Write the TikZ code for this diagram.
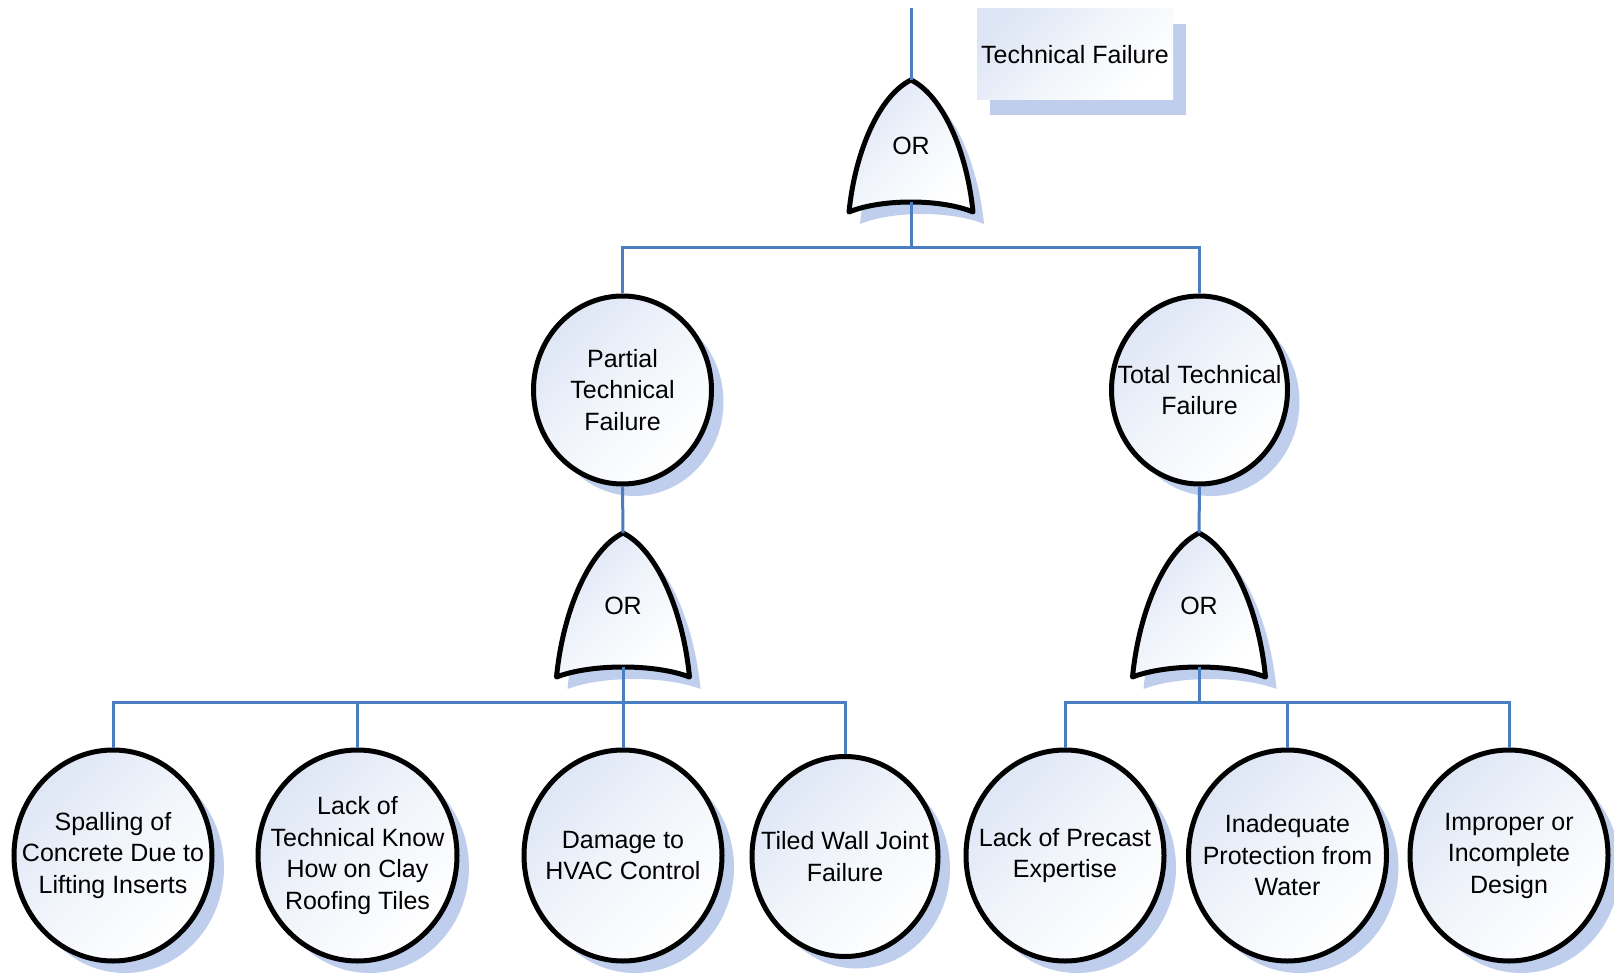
\documentclass[tikz,border=0pt]{standalone}
\usepackage{fontspec}
\setmainfont{Liberation Sans}
\usetikzlibrary{shapes.geometric,shadows}
\definecolor{connblue}{RGB}{74,126,192}
\definecolor{shadowblue}{RGB}{190,206,236}
\definecolor{paleblue}{RGB}{222,230,245}
\tikzset{
  basefont/.style={font=\fontsize{25}{31.5}\selectfont},
  softfill/.style={top color=paleblue, bottom color=white, middle color=white!60!paleblue, shading angle=45},
  softshadow/.style={drop shadow={shadow xshift=12pt, shadow yshift=-12pt, fill=shadowblue, opacity=1}},
  event/.style={ellipse, draw=black, line width=5pt, softfill, softshadow, basefont,
    align=center, inner xsep=-45pt, inner ysep=-10pt},
  gateline/.style={draw=black, line width=5pt, line join=round, softfill},
  gatelabel/.style={rectangle, draw=none, inner sep=0pt, basefont, text height=28pt, text depth=0pt},
  conn/.style={draw=connblue, line width=3pt},
  titlebox/.style={rectangle, inner sep=0pt, softfill, basefont,
    drop shadow={shadow xshift=13pt, shadow yshift=-15pt, fill=shadowblue, opacity=1}}
}
% OR gate outline: apex at (0,0), half width #1, corner depth #2, middle of base at depth #3
\newcommand\gateoutline[3]{(0,0) .. controls ({-0.5*#1},{0.114*#2}) and ({-0.9*#1},{0.53*#2}) .. ({-#1},{#2})
  .. controls ({-0.48*#1},{(#3-0.25*#2)/0.75}) and ({0.48*#1},{(#3-0.25*#2)/0.75}) .. ({#1},{#2})
  .. controls ({0.9*#1},{0.53*#2}) and ({0.5*#1},{0.114*#2}) .. cycle}
% #1 name, #2 x, #3 apex y, #4 half width, #5 corner depth, #6 base middle depth
\newcommand\orgate[6]{%
  \begin{scope}[shift={(#2,#3)}]
    \path[fill=shadowblue, shift={(11,12)}] \gateoutline{#4}{#5}{#6};
    \path[gateline] \gateoutline{#4}{#5}{#6};
  \end{scope}
  \node[gatelabel, minimum width={2*#4}, minimum height={#6}] (#1) at (#2,{#3+#6/2}) {OR};
}
\begin{document}
\begin{tikzpicture}[x=1pt,y=-1pt]
\useasboundingbox (0,0) rectangle (1614,976);

% top event label
\node[titlebox, minimum width=196, minimum height=91] (title) at (1075,54.5) {Technical Failure};

% gates
\orgate{g0}{911}{80}{62}{132}{122}
\orgate{g1}{623}{533}{66.5}{144}{134}
\orgate{g2}{1199}{533}{66.5}{144}{134}

% intermediate events
\node[event, minimum width=178, minimum height=188] (pt) at (622.5,390) {Partial\\Technical\\Failure};
\node[event, minimum width=176, minimum height=188] (tt) at (1199.5,390) {Total Technical\\Failure};

% basic events
\node[event, minimum width=198, minimum height=211] (e1) at (113,855.5) {Spalling of\\Concrete Due to\\Lifting Inserts};
\node[event, minimum width=199, minimum height=211] (e2) at (357.5,855.5) {Lack of\\Technical Know\\How on Clay\\Roofing Tiles};
\node[event, minimum width=198, minimum height=211] (e3) at (623,855.5) {Damage to\\HVAC Control};
\node[event, minimum width=186, minimum height=200] (e4) at (845,856.5) {Tiled Wall Joint\\Failure};
\node[event, minimum width=198, minimum height=211] (e5) at (1065,855.5) {Lack of Precast\\Expertise};
\node[event, minimum width=198, minimum height=211] (e6) at (1287.5,855.5) {Inadequate\\Protection from\\Water};
\node[event, minimum width=198, minimum height=211] (e7) at (1509,855.5) {Improper or\\Incomplete\\Design};

% junctions and free end
\coordinate (top) at (911,8);
\coordinate (j0) at (911,248);
\coordinate (j1) at (623,702);
\coordinate (j2) at (1199,702);

% connectors
\draw[conn] (top) -- (g0.north);
\draw[conn] (g0.south) -- (j0);
\draw[conn] (pt.north) |- (j0);
\draw[conn] (tt.north) |- (j0);
\draw[conn] (pt.south) -- (g1.north);
\draw[conn] (tt.south) -- (g2.north);
\draw[conn] (g1.south) -- (j1);
\draw[conn] (g2.south) -- (j2);
\foreach \e in {e1,e2,e3,e4} \draw[conn] (\e.north) |- (j1);
\foreach \e in {e5,e6,e7} \draw[conn] (\e.north) |- (j2);
\end{tikzpicture}
\end{document}
